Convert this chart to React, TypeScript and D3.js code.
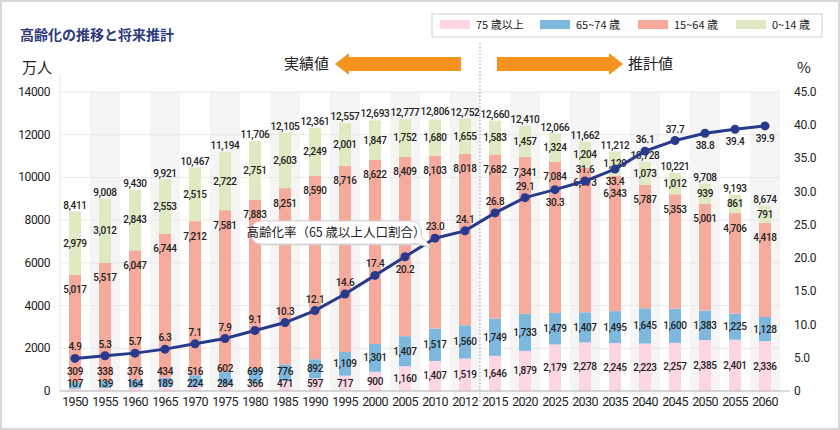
import React from 'react';
import * as d3 from 'd3';

const years = ['1950','1955','1960','1965','1970','1975','1980','1985','1990','1995','2000','2005','2010','2012','2015','2020','2025','2030','2035','2040','2045','2050','2055','2060'];
const age75plus = [107,139,164,189,224,284,366,471,597,717,900,1160,1407,1519,1646,1879,2179,2278,2245,2223,2257,2385,2401,2336];
const age65to74 = [309,338,376,434,516,602,699,776,892,1109,1301,1407,1517,1560,1749,1733,1479,1407,1495,1645,1600,1383,1225,1128];
const age15to64 = [5017,5517,6047,6744,7212,7581,7883,8251,8590,8716,8622,8409,8103,8018,7682,7341,7084,6773,6343,5787,5353,5001,4706,4418];
const age0to14 = [2979,3012,2843,2553,2515,2722,2751,2603,2249,2001,1847,1752,1680,1655,1583,1457,1324,1204,1129,1073,1012,939,861,791];
const totals = [8411,9008,9430,9921,10467,11194,11706,12105,12361,12557,12693,12777,12806,12752,12660,12410,12066,11662,11212,10728,10221,9708,9193,8674];
const agingRate = [4.9,5.3,5.7,6.3,7.1,7.9,9.1,10.3,12.1,14.6,17.4,20.2,23.0,24.1,26.8,29.1,30.3,31.6,33.4,36.1,37.7,38.8,39.4,39.9];
const leftTicks = [0,2000,4000,6000,8000,10000,12000,14000];
const rightTicks = [0,5,10,15,20,25,30,35,40,45];
const seriesNames = ['75 歳以上','65~74 歳','15~64 歳','0~14 歳'];
const seriesColors = ['#fdd6e5','#7fb8df','#f6aa9b','#dfeac2'];

const FONT = '"Noto Sans CJK JP", "Noto Sans", sans-serif';
const NUM = 'Roboto, "Noto Sans", sans-serif';

type Box = { x0: number; x1: number; y0: number; y1: number };
const hit = (a: Box, b: Box) => a.x0 < b.x1 && b.x0 < a.x1 && a.y0 < b.y1 && b.y0 < a.y1;
const textBox = (cx: number, base: number, w: number): Box => ({ x0: cx - w / 2, x1: cx + w / 2, y0: base - 9, y1: base + 2.5 });

export default function App() {
  const W = 840, H = 430;
  const x = d3.scaleBand<string>().domain(years).range([60, 780]).paddingInner(0).paddingOuter(0);
  const yL = d3.scaleLinear().domain([0, 14000]).range([391, 92]);
  const yR = d3.scaleLinear().domain([0, 45]).range([391, 92]);
  const bw = 12;
  const fmt = d3.format(',');
  const cxOf = (i: number) => (x(years[i]) as number) + x.bandwidth() / 2;

  const series = [age75plus, age65to74, age15to64, age0to14];
  const stacked = years.map((_, i) => {
    let acc = 0;
    return series.map((s) => {
      const y0 = acc;
      acc += s[i];
      return [y0, acc];
    });
  });

  const co = { x0: 251, x1: 421, y0: 221, y1: 244 };
  const calloutPath = `M${co.x0 + 11},${co.y0} L${co.x1 - 11},${co.y0} Q${co.x1},${co.y0} ${co.x1},${co.y0 + 11} L${co.x1},${co.y1 - 8} L${co.x1 + 10},${co.y1 + 3} L${co.x1 - 6},${co.y1 - 1} Q${co.x1 - 8},${co.y1} ${co.x1 - 11},${co.y1} L${co.x0 + 11},${co.y1} Q${co.x0},${co.y1} ${co.x0},${(co.y0 + co.y1) / 2} Q${co.x0},${co.y0} ${co.x0 + 11},${co.y0} Z`;

  // bar label baselines
  const barLabels = years.map((yr, i) => {
    const cx = cxOf(i);
    const [p, b, s, g] = stacked[i];
    const pH = yL(p[0]) - yL(p[1]);
    const bH = yL(b[0]) - yL(b[1]);
    const pinkY = pH >= 14 ? (yL(p[0]) + yL(p[1])) / 2 : 383;
    const blueY = bH >= 14 ? Math.min((yL(b[0]) + yL(b[1])) / 2, pinkY - 12) : Math.min(yL(b[1]) - 4, pinkY - 12);
    const salY = yL(s[1]) + 15;
    const grnY = (yL(g[0]) + yL(g[1])) / 2;
    const totY = yL(totals[i]) - 6;
    const vals = [age75plus[i], age65to74[i], age15to64[i], age0to14[i], totals[i]];
    const ys = [pinkY, blueY, salY, grnY, totY];
    return vals.map((v, k) => {
      const t = fmt(v);
      return { t, x: cx, y: ys[k] + 3.5, w: t.length * 5.4 };
    });
  });

  const rateLabels = agingRate.map((v, i) => {
    const cx = cxOf(i);
    const py = yR(v);
    const above = { x: cx, y: py - 8 };
    const below = { x: cx, y: py + 16 };
    const cands = v >= 38.5 ? [below, above] : [above, below];
    const others: Box[] = [...barLabels[i].map((l) => textBox(l.x, l.y, l.w)), co];
    const ok = cands.find((c) => !others.some((o) => hit(textBox(c.x, c.y, 20), o)));
    if (ok) return ok;
    // neither fits: put below and push the 15~64 label down
    barLabels[i][2].y = Math.max(barLabels[i][2].y, below.y + 12);
    return below;
  });

  const line = d3.line<number>().x((_, i) => cxOf(i)).y((d) => yR(d));

  return (
    <svg width={W} height={H} style={{ position: 'absolute', left: 0, top: 0, background: '#fff' }} fontFamily={FONT}>
      <rect x={1} y={1} width={W - 2} height={H - 2} fill="#fff" stroke="#d8d8d8" strokeWidth={2} />
      {years.map((yr, i) => i % 2 === 1 ? (
        <rect key={'c' + yr} x={x(yr)} y={92} width={x.bandwidth()} height={299} fill="#f5f5f5" />
      ) : null)}
      {leftTicks.map((t) => (
        <line key={'g' + t} x1={60} x2={780} y1={yL(t)} y2={yL(t)} stroke="#e9e9e9" strokeWidth={1} />
      ))}
      <line x1={60} x2={60} y1={75} y2={391} stroke="#e6e6e6" />
      <text x={20} y={40} fontSize={14} fontWeight="bold" fill="#2d3a7c">高齢化の推移と将来推計</text>
      <rect x={432} y={14} width={390} height={23} fill="#fff" stroke="#cfcfcf" />
      {seriesNames.map((n, i) => {
        const lx = [440, 540, 638, 736][i];
        return (
          <g key={n}>
            <rect x={lx} y={20} width={30} height={9} fill={seriesColors[i]} />
            <text x={lx + 36} y={29} fontSize={11} fill="#222">{n}</text>
          </g>
        );
      })}
      <text x={22} y={73} fontSize={15} fill="#222">万人</text>
      <text x={797} y={73} fontSize={15} fill="#222">%</text>
      <path d="M335,64 L349,53 L349,57 L461,57 L461,71 L349,71 L349,75 Z" fill="#f7941f" />
      <text x={329} y={69} fontSize={15} textAnchor="end" fill="#222">実績値</text>
      <path d="M497,57 L609,57 L609,53 L623,64 L609,75 L609,71 L497,71 Z" fill="#f7941f" />
      <text x={628} y={69} fontSize={15} fill="#222">推計値</text>
      <line x1={480} x2={480} y1={43} y2={402} stroke="#aaa" strokeWidth={1.2} strokeDasharray="1.5,2" />
      {years.map((yr, i) => {
        const cx = cxOf(i);
        return (
          <g key={'b' + yr}>
            {stacked[i].map(([a, b], k) => (
              <rect key={k} x={cx - bw / 2} y={yL(b)} width={bw} height={yL(a) - yL(b)} fill={seriesColors[k]} />
            ))}
          </g>
        );
      })}
      <line x1={60} x2={790} y1={391} y2={391} stroke="#b8b8b8" strokeWidth={1} />
      {leftTicks.map((t) => (
        <text key={'l' + t} x={50} y={yL(t) + 4} fontSize={12} fontFamily={NUM} textAnchor="end" fill="#222" letterSpacing={-0.4}>{t}</text>
      ))}
      {rightTicks.map((t) => (
        <text key={'r' + t} x={794} y={yR(t) + 4} fontSize={12} fontFamily={NUM} fill="#222" letterSpacing={-0.3}>{t === 0 ? '0' : t.toFixed(1)}</text>
      ))}
      {years.map((yr, i) => (
        <text key={'x' + yr} x={cxOf(i)} y={406} fontSize={12.5} fontFamily={NUM} textAnchor="middle" fill="#222" letterSpacing={-0.6}>{yr}</text>
      ))}
      {barLabels.map((labels, i) => (
        <g key={'lb' + i} fontSize={10} fontFamily={NUM} fontWeight={500} fill="#222" textAnchor="middle" letterSpacing={-0.3}>
          {labels.map((l, k) => (
            <text key={k} x={l.x} y={l.y}>{l.t}</text>
          ))}
        </g>
      ))}
      <path d={line(agingRate) as string} fill="none" stroke="#283a8c" strokeWidth={3} />
      {agingRate.map((v, i) => (
        <circle key={'p' + i} cx={cxOf(i)} cy={yR(v)} r={4.5} fill="#283a8c" />
      ))}
      {agingRate.map((v, i) => (
        <text key={'rl' + i} x={rateLabels[i].x} y={rateLabels[i].y} fontSize={10} fontFamily={NUM} fontWeight={500} textAnchor="middle" fill="#222" letterSpacing={-0.3}>{v.toFixed(1)}</text>
      ))}
      <g>
        <path d={calloutPath} fill="#cfcfcf" transform="translate(1,1.5)" opacity={0.7} />
        <path d={calloutPath} fill="#fff" stroke="#d4d4d4" />
        <text x={(co.x0 + co.x1) / 2} y={co.y1 - 7} fontSize={12.5} textAnchor="middle" fill="#222">高齢化率（65 歳以上人口割合）</text>
      </g>
    </svg>
  );
}
